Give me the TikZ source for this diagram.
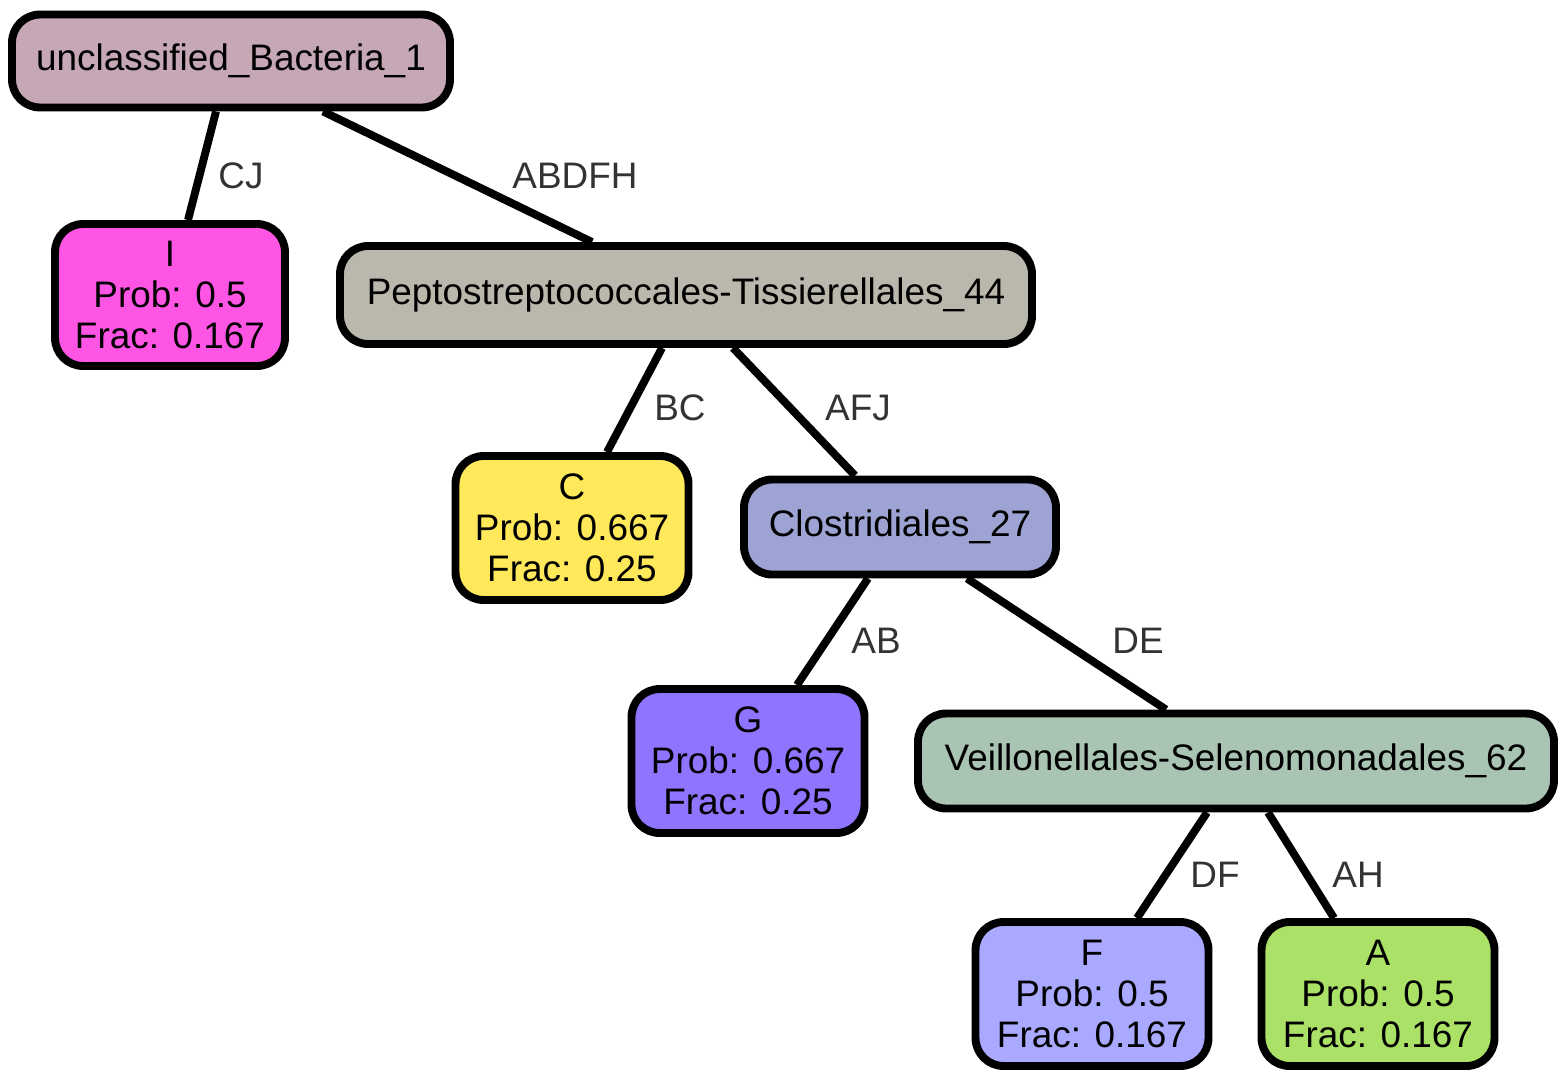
\documentclass[tikz,border=0pt]{standalone}
\usepackage{fontspec}
\setmainfont{Liberation Sans}
\begin{document}
\begin{tikzpicture}[x=0.02cm,y=-0.02cm,
  box/.style={draw=black,line width=4.5pt,rounded corners=16pt,align=center,inner sep=0pt,
     font=\fontsize{21}{23.3}\selectfont},
  edge/.style={line width=4.5pt,draw=black},
  lab/.style={font=\fontsize{21}{23}\selectfont,text=black!80}]
\useasboundingbox (0,0) rectangle (1568,1079);
\definecolor{cU}{HTML}{C6A7B5}
\definecolor{cI}{HTML}{FF55E5}
\definecolor{cP}{HTML}{BAB7AC}
\definecolor{cC}{HTML}{FFE85A}
\definecolor{cCl}{HTML}{9DA3D3}
\definecolor{cG}{HTML}{8E74FF}
\definecolor{cV}{HTML}{A9C4B2}
\definecolor{cF}{HTML}{A9A9FF}
\definecolor{cA}{HTML}{AAE166}
\node[box,fill=cU,minimum width=438*0.02cm,minimum height=93*0.02cm] (U) at (231,61) {unclassified\_Bacteria\_1};
\node[box,fill=cI,minimum width=230*0.02cm,minimum height=142*0.02cm] (I) at (170,295) {I\\Prob: 0.5\\Frac: 0.167};
\node[box,fill=cP,minimum width=692*0.02cm,minimum height=98*0.02cm] (P) at (686,295) {Peptostreptococcales-Tissierellales\_44};
\node[box,fill=cC,minimum width=233*0.02cm,minimum height=144*0.02cm] (C) at (572,528) {C\\Prob: 0.667\\Frac: 0.25};
\node[box,fill=cCl,minimum width=312*0.02cm,minimum height=95*0.02cm] (Cl) at (900,527) {Clostridiales\_27};
\node[box,fill=cG,minimum width=233*0.02cm,minimum height=144*0.02cm] (G) at (748,761) {G\\Prob: 0.667\\Frac: 0.25};
\node[box,fill=cV,minimum width=636*0.02cm,minimum height=95*0.02cm] (V) at (1236,761) {Veillonellales-Selenomonadales\_62};
\node[box,fill=cF,minimum width=233*0.02cm,minimum height=144*0.02cm] (F) at (1092,994) {F\\Prob: 0.5\\Frac: 0.167};
\node[box,fill=cA,minimum width=233*0.02cm,minimum height=144*0.02cm] (A) at (1378,994) {A\\Prob: 0.5\\Frac: 0.167};
\draw[edge] (U.south -| 216,0) -- (I.north -| 188,0);
\draw[edge] (U.south -| 323,0) -- (P.north -| 592,0);
\draw[edge] (P.south -| 662,0) -- (C.north -| 607,0);
\draw[edge] (P.south -| 733,0) -- (Cl.north -| 855,0);
\draw[edge] (Cl.south -| 868,0) -- (G.north -| 797,0);
\draw[edge] (Cl.south -| 967,0) -- (V.north -| 1166,0);
\draw[edge] (V.south -| 1207,0) -- (F.north -| 1137,0);
\draw[edge] (V.south -| 1268,0) -- (A.north -| 1334,0);
\node[lab] (lCJ) at (241,176) {CJ};
\node[lab] (lABDFH) at (575,176) {ABDFH};
\node[lab] (lBC) at (680,408) {BC};
\node[lab] (lAFJ) at (858,408) {AFJ};
\node[lab] (lAB) at (876,641) {AB};
\node[lab] (lDE) at (1138,641) {DE};
\node[lab] (lDF) at (1215,875) {DF};
\node[lab] (lAH) at (1358,875) {AH};
\end{tikzpicture}
\end{document}
